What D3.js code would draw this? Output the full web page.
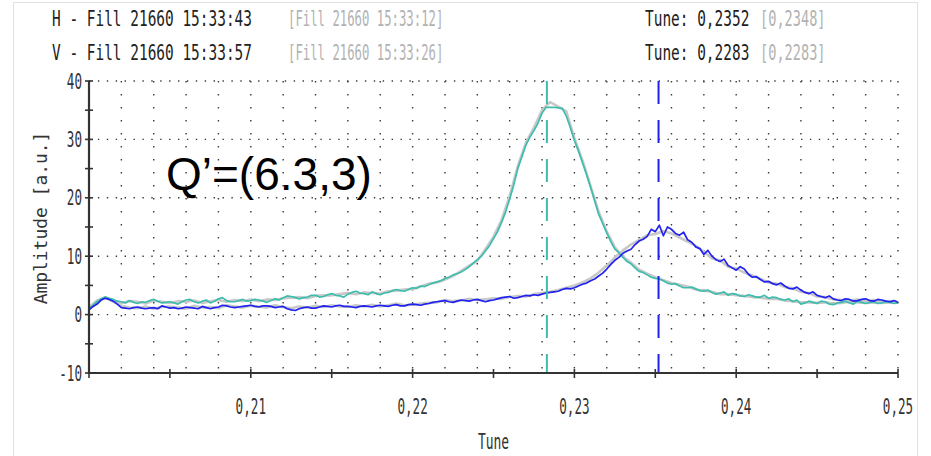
<!DOCTYPE html>
<html><head><meta charset="utf-8">
<script src="https://cdn.jsdelivr.net/npm/d3@7"></script>
<style>body{margin:0;background:#fff}svg{display:block}</style>
</head><body>
<svg id="c" width="931" height="456"></svg>
<script>
// sample tunes of the current acquisitions
const tune = [
0.20000,0.20025,0.20050,0.20075,0.20100,0.20125,0.20150,0.20175,0.20200,0.20225,0.20250,0.20275,0.20300,0.20325,0.20350,0.20375,0.20400,0.20425,0.20450,0.20475,
0.20500,0.20525,0.20550,0.20575,0.20600,0.20625,0.20650,0.20675,0.20700,0.20725,0.20750,0.20775,0.20800,0.20825,0.20850,0.20875,0.20900,0.20925,0.20950,0.20975,
0.21000,0.21025,0.21050,0.21075,0.21100,0.21125,0.21150,0.21175,0.21200,0.21225,0.21250,0.21275,0.21300,0.21325,0.21350,0.21375,0.21400,0.21425,0.21450,0.21475,
0.21500,0.21525,0.21550,0.21575,0.21600,0.21625,0.21650,0.21675,0.21700,0.21725,0.21750,0.21775,0.21800,0.21825,0.21850,0.21875,0.21900,0.21925,0.21950,0.21975,
0.22000,0.22025,0.22050,0.22075,0.22100,0.22125,0.22150,0.22175,0.22200,0.22225,0.22250,0.22275,0.22300,0.22325,0.22350,0.22375,0.22400,0.22425,0.22450,0.22475,
0.22500,0.22525,0.22550,0.22575,0.22600,0.22625,0.22650,0.22675,0.22700,0.22725,0.22750,0.22775,0.22800,0.22825,0.22850,0.22875,0.22900,0.22925,0.22950,0.22975,
0.23000,0.23025,0.23050,0.23075,0.23100,0.23125,0.23150,0.23175,0.23200,0.23225,0.23250,0.23275,0.23300,0.23325,0.23350,0.23375,0.23400,0.23425,0.23450,0.23475,
0.23500,0.23525,0.23550,0.23575,0.23600,0.23625,0.23650,0.23675,0.23700,0.23725,0.23750,0.23775,0.23800,0.23825,0.23850,0.23875,0.23900,0.23925,0.23950,0.23975,
0.24000,0.24025,0.24050,0.24075,0.24100,0.24125,0.24150,0.24175,0.24200,0.24225,0.24250,0.24275,0.24300,0.24325,0.24350,0.24375,0.24400,0.24425,0.24450,0.24475,
0.24500,0.24525,0.24550,0.24575,0.24600,0.24625,0.24650,0.24675,0.24700,0.24725,0.24750,0.24775,0.24800,0.24825,0.24850,0.24875,0.24900,0.24925,0.24950,0.24975,
0.25000];
// H plane (blue) amplitude
const hAmp = [
0.8,1.4,1.8,2.5,2.8,2.6,2.3,1.8,1.2,1.1,1.0,1.2,1.3,1.1,1.0,1.1,1.2,1.0,1.5,1.3,
1.1,1.2,1.0,1.1,1.3,1.2,1.1,1.0,1.4,1.2,1.0,1.2,1.3,1.6,1.5,1.3,1.2,1.3,1.4,1.5,
1.6,1.4,1.3,1.5,1.5,1.4,1.2,1.3,1.4,1.0,0.8,0.7,1.0,1.2,1.3,1.1,1.1,1.3,1.5,1.4,
1.3,1.5,1.6,1.4,1.4,1.3,1.2,1.4,1.5,1.4,1.3,1.5,1.6,1.5,1.4,1.6,1.7,1.5,1.5,1.7,
1.8,1.7,1.6,1.8,1.9,2.1,2.2,2.3,2.4,2.2,2.1,2.3,2.5,2.4,2.3,2.5,2.6,2.4,2.2,2.4,
2.5,2.7,2.9,3.0,3.1,2.8,2.9,3.1,3.3,3.2,3.4,3.3,3.5,3.7,3.8,3.9,4.0,4.3,4.5,4.4,
4.6,4.9,5.2,5.4,5.8,6.1,6.6,7.1,7.8,8.6,9.3,9.8,10.5,10.9,11.2,12.0,12.6,12.9,13.4,14.6,
14.2,15.3,13.5,15.0,14.6,13.9,13.6,14.1,12.8,12.4,11.6,11.3,10.3,11.0,10.0,9.4,9.1,9.5,8.4,8.0,
7.6,8.2,7.8,6.9,6.4,6.5,6.0,5.6,5.7,5.3,5.1,5.4,4.9,4.5,4.4,4.7,4.2,3.8,3.6,3.9,
3.3,3.1,2.9,3.2,2.7,2.5,2.4,2.7,2.6,2.3,2.4,2.6,2.7,2.4,2.3,2.6,2.5,2.3,2.2,2.4,
2.1];
// V plane (teal) amplitude
const vAmp = [
1.0,1.6,2.2,2.7,3.0,2.8,2.6,2.3,2.2,2.0,2.4,2.1,1.9,2.2,2.1,2.4,2.6,2.3,2.0,2.1,
2.2,2.0,1.8,2.2,2.5,2.6,2.2,2.0,2.3,2.5,2.0,2.3,2.7,2.9,2.4,2.2,2.2,2.4,2.6,2.3,
2.4,2.6,2.5,2.3,2.1,2.4,2.7,2.5,2.9,3.2,3.1,2.9,2.7,2.9,3.0,3.3,3.3,3.0,3.1,3.4,
3.6,3.3,3.2,3.0,3.5,3.8,4.0,3.7,3.6,3.4,3.9,3.6,3.4,3.7,3.8,4.1,4.3,4.1,4.0,4.3,
4.6,4.5,4.9,4.8,5.1,5.4,5.6,5.8,6.2,6.4,6.8,7.0,7.3,7.7,8.2,8.8,9.4,10.0,10.9,11.8,
13.0,14.2,15.8,17.6,19.8,22.2,25.0,27.0,29.0,30.4,31.5,32.8,34.5,35.5,35.5,35.5,35.4,35.3,34.0,32.0,
29.8,28.0,26.0,24.0,21.8,19.5,17.2,15.6,14.0,12.5,11.2,10.6,9.8,9.1,8.7,8.0,7.4,7.2,6.8,6.4,
6.2,6.1,5.8,5.4,5.2,5.3,4.9,4.6,4.6,4.7,4.4,4.1,4.0,4.2,3.8,3.5,3.7,3.9,3.3,3.6,
3.5,3.2,3.1,3.4,3.2,3.0,3.0,3.3,2.8,3.0,2.9,2.6,2.5,2.7,2.2,2.5,1.8,2.0,2.3,2.1,
1.9,2.3,2.2,1.8,1.7,2.0,2.1,2.3,2.0,1.8,2.3,2.1,1.9,2.1,2.2,1.9,2.0,2.2,2.1,1.9,
2.0];
// sample tunes of the reference (grey) acquisitions
const tuneRef = [
0.2000,0.2005,0.2010,0.2015,0.2020,0.2025,0.2030,0.2035,0.2040,0.2045,
0.2050,0.2055,0.2060,0.2065,0.2070,0.2075,0.2080,0.2085,0.2090,0.2095,
0.2100,0.2105,0.2110,0.2115,0.2120,0.2125,0.2130,0.2135,0.2140,0.2145,
0.2150,0.2155,0.2160,0.2165,0.2170,0.2175,0.2180,0.2185,0.2190,0.2195,
0.2200,0.2205,0.2210,0.2215,0.2220,0.2225,0.2230,0.2235,0.2240,0.2245,
0.2250,0.2255,0.2260,0.2265,0.2270,0.2275,0.2280,0.2285,0.2290,0.2295,
0.2300,0.2305,0.2310,0.2315,0.2320,0.2325,0.2330,0.2335,0.2340,0.2345,
0.2350,0.2355,0.2360,0.2365,0.2370,0.2375,0.2380,0.2385,0.2390,0.2395,
0.2400,0.2405,0.2410,0.2415,0.2420,0.2425,0.2430,0.2435,0.2440,0.2445,
0.2450,0.2455,0.2460,0.2465,0.2470,0.2475,0.2480,0.2485,0.2490,0.2495,
0.2500];
const hRef = [
0.9,2.0,3.0,2.2,1.5,1.2,1.1,1.4,1.0,1.3,
1.4,1.2,1.0,1.5,1.2,1.3,1.1,1.6,1.4,1.2,
1.5,1.4,1.2,1.6,1.3,1.1,1.4,1.2,1.5,1.3,
1.6,1.4,1.3,1.6,1.4,1.7,1.4,1.6,1.9,1.6,
1.7,1.9,2.0,2.1,2.5,2.3,2.4,2.7,2.5,2.6,
2.8,2.7,3.0,3.2,3.1,3.5,3.7,3.9,4.2,4.6,
5.0,5.5,6.2,7.2,8.4,9.8,11.0,12.0,12.8,13.6,
13.8,14.3,13.9,13.2,12.5,11.8,10.8,9.6,9.3,8.2,
7.9,7.2,6.7,6.1,5.5,5.3,4.7,4.5,3.9,3.7,
3.1,3.0,2.6,2.5,2.4,2.6,2.3,2.5,2.2,2.3,
2.0];
const vRef = [
1.2,2.4,2.9,2.4,2.0,2.3,2.2,1.9,2.4,2.2,
2.0,2.3,2.2,2.4,2.0,2.3,2.5,2.2,2.5,2.3,
2.6,2.3,2.6,2.5,2.8,2.9,3.0,2.8,3.2,3.3,
3.3,3.5,3.7,3.5,3.8,3.7,3.6,4.0,4.1,4.3,
4.4,4.8,5.3,5.5,6.0,6.6,7.5,8.4,9.2,11.2,
13.3,16.2,20.3,25.4,29.4,32.0,35.0,36.4,35.6,34.8,
30.2,26.4,22.0,17.6,14.2,11.5,9.9,8.9,7.7,7.0,
6.4,5.9,5.4,5.1,4.8,4.3,4.1,3.9,3.5,3.5,
3.3,3.2,3.0,2.9,2.7,2.7,2.4,2.3,2.1,2.1,
2.0,2.1,1.9,2.0,2.2,2.1,2.0,2.1,2.0,2.1,
2.1];
const hTune = 0.2352;
const vTune = 0.2283;
const xTickValues = [0.21, 0.22, 0.23, 0.24, 0.25];
const xTickLabels = ["0,21", "0,22", "0,23", "0,24", "0,25"];
const yTickValues = [-10, 0, 10, 20, 30, 40];
const yTickLabels = ["-10", "0", "10", "20", "30", "40"];
const headerNames = ["H - Fill 21660 15:33:43", "V - Fill 21660 15:33:57"];
const headerRefs = ["[Fill 21660 15:33:12]", "[Fill 21660 15:33:26]"];
const headerTunes = ["Tune: 0,2352", "Tune: 0,2283"];
const headerTuneRefs = ["[0,2348]", "[0,2283]"];
const annotation = "Q\u2019=(6.3,3)";

const svg = d3.select("#c");
const mono = "'DejaVu Sans Mono', monospace";
const x = d3.scaleLinear().domain([0.2, 0.25]).range([89, 898]);
const y = d3.scaleLinear().domain([-10, 40]).range([373, 81]);

// condensed tall text: DejaVu Sans Mono scaled (advance 0.602em, cap 0.729em)
function stext(g, s, tx, ty, o) {
  const size = o.size || 15;
  const sx = o.charW / (0.602 * size);
  const sy = o.cap / (0.729 * size);
  return g.append("text")
    .attr("transform", `translate(${tx},${ty})` + (o.rot ? ` rotate(${o.rot})` : "") + ` scale(${sx},${sy})`)
    .attr("text-anchor", o.anchor || "start")
    .attr("font-family", mono).attr("font-size", size)
    .attr("fill", o.fill || "#333").text(s);
}

// outer frame
svg.append("rect").attr("x", 13.5).attr("y", 2.5).attr("width", 904).attr("height", 480)
  .attr("fill", "none").attr("stroke", "#e2e2e2").attr("stroke-width", 1);

// header
const hdr = svg.append("g");
[26, 60].forEach((by, i) => {
  stext(hdr, headerNames[i], 52, by, {charW: 8.7, cap: 15, fill: "#222"});
  stext(hdr, headerRefs[i], 288, by, {charW: 7.4, cap: 15, fill: "#b2b2b2"});
  stext(hdr, headerTunes[i], 645, by, {charW: 8.7, cap: 15, fill: "#222"});
  stext(hdr, headerTuneRefs[i], 760, by, {charW: 8.2, cap: 15, fill: "#b2b2b2"});
});

// dotted grid
const grid = svg.append("g").attr("stroke", "#3a3a3a").attr("stroke-width", 1.4);
grid.selectAll("line.r").data(yTickValues.filter(v => v > -10)).join("line")
  .attr("x1", x(0.2)).attr("x2", x(0.25)).attr("y1", d => y(d)).attr("y2", d => y(d))
  .attr("stroke-dasharray", "1.4 7.5");
grid.selectAll("line.c").data(x.ticks(25).filter(t => t > 0.2001)).join("line")
  .attr("x1", d => x(d)).attr("x2", d => x(d)).attr("y1", y(40)).attr("y2", y(-10))
  .attr("stroke-dasharray", "1.4 11.6");

// curves
const lineCur = d3.line().x((d, i) => x(tune[i])).y(d => y(d));
const lineRef = d3.line().x((d, i) => x(tuneRef[i])).y(d => y(d));
const curves = svg.append("g").attr("fill", "none").attr("stroke-linejoin", "round");
curves.append("path").attr("d", lineRef(vRef)).attr("stroke", "#c8c8c8").attr("stroke-width", 2.6);
curves.append("path").attr("d", lineRef(hRef)).attr("stroke", "#c8c8c8").attr("stroke-width", 2.6);
curves.append("path").attr("d", lineCur(vAmp)).attr("stroke", "#3dbdad").attr("stroke-width", 1.7);
curves.append("path").attr("d", lineCur(hAmp)).attr("stroke", "#2222f0").attr("stroke-width", 1.7);

// tune markers
svg.append("line").attr("x1", x(vTune)).attr("x2", x(vTune)).attr("y1", y(40)).attr("y2", y(-10))
  .attr("stroke", "#3dbdad").attr("stroke-width", 2).attr("stroke-dasharray", "23 16");
svg.append("line").attr("x1", x(hTune)).attr("x2", x(hTune)).attr("y1", y(40)).attr("y2", y(-10))
  .attr("stroke", "#2020f0").attr("stroke-width", 2).attr("stroke-dasharray", "23 16");

// axes
const ax = svg.append("g").attr("stroke", "#333").attr("stroke-width", 2.2);
ax.append("line").attr("x1", x(0.2)).attr("x2", x(0.2)).attr("y1", y(40)).attr("y2", y(-10) + 1);
ax.append("line").attr("x1", x(0.2) - 1).attr("x2", x(0.25)).attr("y1", y(-10)).attr("y2", y(-10));
ax.selectAll("line.yt").data(d3.range(-10, 41, 5)).join("line")
  .attr("x1", x(0.2) - 4).attr("x2", x(0.2) + 4).attr("y1", d => y(d)).attr("y2", d => y(d))
  .attr("stroke-width", 1.6);
ax.selectAll("line.xt").data(x.ticks(10)).join("line")
  .attr("x1", d => x(d)).attr("x2", d => x(d)).attr("y1", y(-10) - 4).attr("y2", y(-10) + 5)
  .attr("stroke-width", 1.6);

const lab = svg.append("g");
yTickValues.forEach((v, i) => stext(lab, yTickLabels[i], 82, y(v) + 7.5, {charW: 7.6, cap: 15, anchor: "end"}));
xTickValues.forEach((v, i) => stext(lab, xTickLabels[i], x(v), y(-10) + 41, {charW: 7.6, cap: 15, anchor: "middle"}));
stext(lab, "Tune", (x(0.2) + x(0.25)) / 2, 449, {charW: 7.8, cap: 15, anchor: "middle"});
stext(lab, "Amplitude [a.u.]", 47, 218, {charW: 10.8, cap: 13, anchor: "middle", rot: -90});

// annotation
svg.append("text").attr("x", 166).attr("y", 190)
  .attr("font-family", "'Liberation Sans', Arial, sans-serif").attr("font-size", 46).attr("fill", "#000")
  .text(annotation);
</script>
</body></html>
